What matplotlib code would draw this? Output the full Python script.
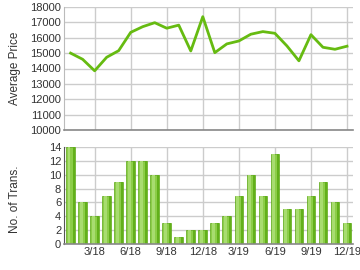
import matplotlib
matplotlib.use("Agg")
import matplotlib.pyplot as plt
import numpy as np

months = ["1/18","2/18","3/18","4/18","5/18","6/18","7/18","8/18","9/18","10/18","11/18","12/18",
          "1/19","2/19","3/19","4/19","5/19","6/19","7/19","8/19","9/19","10/19","11/19","12/19"]
avg_price = [15000, 14600, 13850, 14730, 15160, 16350, 16720, 16980, 16620, 16820, 15140, 17370,
             15030, 15600, 15790, 16230, 16400, 16290, 15470, 14500, 16200, 15380, 15250, 15450]
transactions = [14, 6, 4, 7, 9, 12, 12, 10, 3, 1, 2, 2, 3, 4, 7, 10, 7, 13, 5, 5, 7, 9, 6, 3]
tick_labels = ["3/18", "6/18", "9/18", "12/18", "3/19", "6/19", "9/19", "12/19"]

plt.rcParams['font.family'] = ['Liberation Sans', 'DejaVu Sans']
fig = plt.figure(figsize=(3.6, 2.7), dpi=100)
W, H = 360, 270
def rect(x0, y0, x1, y1):
    return [x0 / W, 1 - y1 / H, (x1 - x0) / W, (y1 - y0) / H]

ax1 = fig.add_axes(rect(64, 7, 353, 130))
ax2 = fig.add_axes(rect(64, 147, 353, 244))

x = np.arange(len(months))
tick_pos = [months.index(t) for t in tick_labels]
grid_c = "#cccccc"
txt_c = "#333333"

for ax in (ax1, ax2):
    ax.set_xlim(-0.55, 23.5)
    ax.set_xticks(tick_pos)
    ax.grid(True, color=grid_c, linewidth=1)
    ax.set_axisbelow(True)
    for s in ("top", "right"):
        ax.spines[s].set_visible(False)
    ax.spines["bottom"].set_color("#888888")
    ax.spines["bottom"].set_linewidth(1.2)
    ax.tick_params(length=0, labelsize=8, colors=txt_c, pad=2)
ax1.spines["left"].set_color("#bbbbbb")
ax2.spines["left"].set_color("#555555")

ax1.plot(x, avg_price, color="#66bb11", linewidth=2)
ax1.set_ylim(10000, 18000)
ax1.set_yticks(np.arange(10000, 18001, 1000))
ax1.set_xticklabels([])

ax2.bar(x, transactions, width=0.72, color="#8ccd48", edgecolor="#5aa612", linewidth=0.5)
ax2.bar(x - 0.12, transactions, width=0.22, color="#a8dc70", linewidth=0)
ax2.bar(x + 0.27, transactions, width=0.14, color="#62b01a", linewidth=0)
ax2.set_ylim(0, 14)
ax2.set_yticks(np.arange(0, 15, 2))
ax2.set_xticklabels(tick_labels)

fig.text(15 / W, 1 - 68 / H, "Average Price", rotation=90, fontsize=8.5, color=txt_c,
         ha="center", va="center")
fig.text(15 / W, 1 - 199 / H, "No. of Trans.", rotation=90, fontsize=8.5, color=txt_c,
         ha="center", va="center")

fig.savefig("out.png", dpi=100)
